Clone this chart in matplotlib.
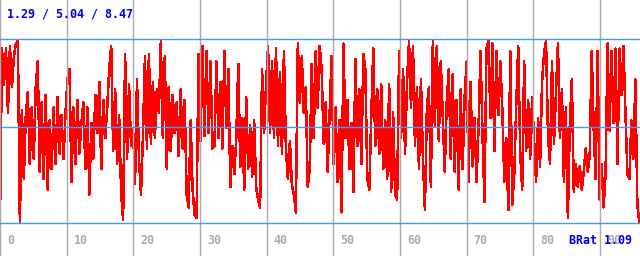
import matplotlib
matplotlib.use("Agg")
import matplotlib.pyplot as plt
import numpy as np

# BRat samples (every ~2 px)
brat_a = [1.4, 8.1, 6.7, 8.1, 5.6, 8.2, 6.6, 7.8, 8.3, 8.4, 1.3, 5.7, 3.0, 5.5, 6.4, 3.6, 5.8, 3.8,
          6.6, 7.6, 3.3, 6.0, 3.0, 6.3, 2.6, 5.3, 3.4, 5.8, 3.6, 6.2, 4.0, 5.5, 3.8, 5.6, 6.9, 7.3,
          2.9, 5.8, 3.6, 6.1, 4.0, 5.2, 6.0, 3.4, 5.8, 2.4, 5.2, 3.8, 6.3, 4.8, 6.8, 3.4, 6.1, 4.6]
brat_b = [5.8, 7.3, 8.2, 4.1, 6.5, 3.6, 5.5, 2.5, 1.4, 7.9, 3.8, 6.7, 4.3, 5.0, 2.8, 6.9, 3.8, 2.4,
          4.7, 7.8, 4.2, 7.9, 4.4, 6.8, 4.6, 6.5, 5.6, 8.4, 4.6, 7.8, 3.4, 6.6, 4.1, 6.3, 4.8, 6.0,
          3.9, 6.5, 4.2, 6.1, 2.4, 1.9, 5.3, 2.6, 1.6, 1.5, 7.9, 4.5, 8.2, 4.7, 8.0, 4.8, 7.6, 4.2]
brat_c = [4.3, 7.6, 4.6, 6.8, 4.2, 8.0, 5.0, 7.3, 2.7, 4.3, 3.2, 4.6, 7.5, 3.5, 5.4, 2.6, 6.2, 3.4,
          5.1, 3.1, 5.3, 2.7, 2.2, 1.9, 7.3, 4.8, 6.7, 8.2, 4.8, 7.6, 4.6, 8.1, 4.3, 7.2, 4.0, 8.0,
          4.2, 3.0, 4.5, 2.8, 2.4, 1.7, 8.3, 6.0, 7.8, 5.6, 6.6, 2.7, 3.4, 7.5, 4.6, 8.0, 5.8, 8.2]
brat_d = [7.3, 4.4, 6.0, 3.3, 5.6, 7.8, 3.6, 5.8, 2.9, 5.3, 1.7, 8.3, 4.6, 6.1, 3.4, 5.2, 2.5, 7.7,
          4.3, 6.5, 3.6, 7.9, 7.3, 3.0, 2.6, 5.5, 8.1, 4.3, 6.5, 4.0, 6.7, 3.4, 5.3, 3.0, 6.7, 2.5,
          5.6, 2.4, 2.2, 8.0, 4.6, 7.3, 4.0, 6.8, 8.4, 5.8, 8.2, 4.3, 6.6, 3.4, 6.9, 3.8, 1.8, 5.8]
brat_e = [6.6, 2.7, 8.4, 5.1, 8.2, 4.5, 7.6, 5.5, 3.3, 6.0, 7.3, 3.8, 7.1, 3.3, 6.1, 2.6, 6.5, 3.4,
          6.2, 7.6, 2.9, 6.8, 3.5, 5.4, 2.9, 5.0, 8.0, 4.8, 2.1, 8.1, 8.4, 5.4, 8.3, 4.1, 8.0, 5.5,
          7.6, 5.7, 2.9, 4.6, 1.8, 8.0, 2.0, 3.2, 5.9, 8.2, 4.0, 2.6, 7.6, 4.1, 6.1, 3.8, 6.2, 4.5]
brat_f = [2.9, 5.4, 3.5, 6.8, 7.9, 8.4, 4.7, 3.6, 7.6, 4.4, 6.4, 8.3, 4.6, 6.5, 2.9, 5.8, 1.5, 5.2,
          6.9, 2.5, 3.6, 2.7, 3.5, 2.6, 3.3, 4.2, 3.3, 3.9, 8.0, 5.0, 3.0, 8.0, 2.2, 3.6, 1.9, 3.2,
          8.3, 4.9, 8.0, 5.2, 8.1, 3.6, 8.1, 6.3, 8.2, 5.6, 3.2, 3.0, 5.3, 3.8, 6.9, 2.0, 1.3]
brat = brat_a + brat_b + brat_c + brat_d + brat_e + brat_f

# min / avg / max shown in the header
stat_min = 1.29
stat_avg = 5.04
stat_max = 8.47
last_brat = "1.09"

x_ticks = [0, 10, 20, 30, 40, 50, 60, 70, 80, 90]

fig = plt.figure(figsize=(6.4, 2.56), dpi=100)
ax = fig.add_axes([0, 0, 1, 1])
ax.set_xlim(0, 96)
ax.set_ylim(0, 10)
ax.axis("off")

xs = np.linspace(0, 95.9, len(brat))
ax.plot(xs, brat, color="#ff0000", lw=1.1, antialiased=False, zorder=2)

for t in x_ticks:
    ax.axvline(t, color="#aaaaaa", lw=1, zorder=3)
    ax.text(t + 1.05, 0.45, str(t), color="#aaaaaa", fontsize=8.4,
            family="DejaVu Sans Mono", fontweight="bold", zorder=4)

for v in (stat_min, stat_avg, stat_max):
    ax.axhline(v, color="#3d9bff", lw=1, zorder=5)

ax.text(1.05, 9.3, f"{stat_min:.2f} / {stat_avg:.2f} / {stat_max:.2f}", color="#0000ee",
        fontsize=8.4, family="DejaVu Sans Mono", fontweight="bold", zorder=6)
ax.text(85.4, 0.45, f"BRat {last_brat}", color="#0000ee", fontsize=8.4,
        family="DejaVu Sans Mono", fontweight="bold", zorder=6)

fig.savefig("out.png", dpi=100)
